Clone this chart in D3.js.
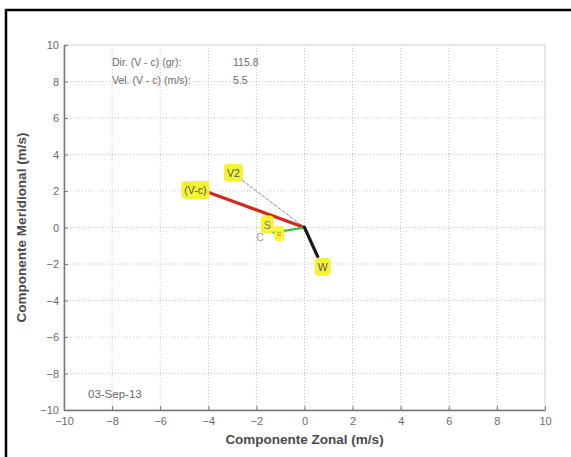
<!DOCTYPE html>
<html>
<head>
<meta charset="UTF-8">
<title>Vectores</title>
<script src="https://d3js.org/d3.v7.min.js"></script>
<style>
  body { margin: 0; background: #fff; }
  svg { display: block; font-family: "Liberation Sans", Arial, sans-serif; }
</style>
</head>
<body>
<svg width="571" height="457"></svg>
<script>
// datos
var ticks = [-10, -8, -6, -4, -2, 0, 2, 4, 6, 8, 10];
var vecNames = ["(V-c)", "V2", "S", "W"];
var vecU = [-4.95, -3.0, -1.3, 0.55];
var vecV = [2.39, 3.0, -0.28, -1.6];
var dirVc = "115.8";
var velVc = "5.5";
var fecha = "03-Sep-13";

var svg = d3.select("svg");

// marco
svg.append("path")
    .attr("d", "M6,460 L6,10 L575,10")
    .attr("fill", "none")
    .attr("stroke", "#000")
    .attr("stroke-width", 2.5);

var x = d3.scaleLinear().domain([-10, 10]).range([64, 545]);
var y = d3.scaleLinear().domain([-10, 10]).range([410, 45]);

// rejilla
var inner = ticks.slice(1, -1);
svg.append("g").selectAll("line").data(inner).enter().append("line")
    .attr("x1", d => x(d)).attr("x2", d => x(d))
    .attr("y1", y(10)).attr("y2", y(-10))
    .attr("stroke", "#c4c4c4").attr("stroke-dasharray", "1,2");
svg.append("g").selectAll("line").data(inner).enter().append("line")
    .attr("y1", d => y(d)).attr("y2", d => y(d))
    .attr("x1", x(-10)).attr("x2", x(10))
    .attr("stroke", "#c4c4c4").attr("stroke-dasharray", "1,2");

// caja
svg.append("rect")
    .attr("x", x(-10)).attr("y", y(10))
    .attr("width", x(10) - x(-10)).attr("height", y(-10) - y(10))
    .attr("fill", "none").attr("stroke", "#cfcfcf");

// ejes
var xAxis = svg.append("g")
    .attr("transform", "translate(0," + y(-10) + ")")
    .call(d3.axisBottom(x).tickValues(ticks).tickSizeInner(-4).tickSizeOuter(0).tickPadding(7));
var yAxis = svg.append("g")
    .attr("transform", "translate(" + x(-10) + ",0)")
    .call(d3.axisLeft(y).tickValues(ticks).tickSizeInner(-4).tickSizeOuter(0).tickPadding(5));
[xAxis, yAxis].forEach(function(a) {
    a.select(".domain").attr("stroke", "#777").attr("stroke-width", 1.5);
    a.selectAll(".tick line").attr("stroke", "#777");
    a.selectAll("text").attr("fill", "#6a6a6a").attr("font-size", "11px")
        .attr("font-family", "Liberation Sans, Arial, sans-serif");
});

// etiquetas de ejes
svg.append("text")
    .attr("x", (x(-10) + x(10)) / 2).attr("y", 444)
    .attr("text-anchor", "middle").attr("font-weight", "bold")
    .attr("font-size", "13.5px").attr("fill", "#4a4a4a")
    .text("Componente Zonal (m/s)");
svg.append("text")
    .attr("transform", "translate(26," + (y(0)) + ") rotate(-90)")
    .attr("text-anchor", "middle").attr("font-weight", "bold")
    .attr("font-size", "13.5px").attr("fill", "#4a4a4a")
    .text("Componente Meridional (m/s)");

// textos
var info = svg.append("g").attr("font-size", "10.5px").attr("fill", "#6a6a6a");
info.append("text").attr("x", 112).attr("y", 66).text("Dir. (V - c) (gr):");
info.append("text").attr("x", 233).attr("y", 66).text(dirVc);
info.append("text").attr("x", 112).attr("y", 84).text("Vel. (V - c) (m/s):");
info.append("text").attr("x", 233).attr("y", 84).text(velVc);
svg.append("text").attr("x", 88).attr("y", 398)
    .attr("font-size", "11.5px").attr("fill", "#6a6a6a").text(fecha);

// vectores
var x0 = x(0), y0 = y(0);
function vline(i, color, w, dash) {
    svg.append("line")
        .attr("x1", x0).attr("y1", y0)
        .attr("x2", x(vecU[i])).attr("y2", y(vecV[i]))
        .attr("stroke", color).attr("stroke-width", w)
        .attr("stroke-dasharray", dash || null)
        .attr("stroke-linecap", "round");
}
vline(1, "#8a8a9a", 1, "3,2");
vline(0, "#d42a1e", 3.2);
vline(2, "#2fc23a", 2.2);
vline(3, "#1a1a1a", 3.2);

// etiquetas amarillas
function label(txt, px, py, fs, color) {
    var g = svg.append("g");
    var t = g.append("text").attr("x", px).attr("y", py)
        .attr("text-anchor", "middle").attr("dominant-baseline", "central")
        .attr("font-size", fs).attr("fill", color || "#555").text(txt);
    var b = t.node().getBBox();
    g.insert("rect", "text")
        .attr("x", b.x - 3).attr("y", b.y - 3)
        .attr("width", b.width + 6).attr("height", b.height + 6)
        .attr("rx", 4).attr("fill", "#f4f22a").attr("opacity", 0.95);
}
label(vecNames[0], x(vecU[0]) + 10, y(vecV[0]) + 6, "10.5px");
label(vecNames[1], x(vecU[1]) + 1, y(vecV[1]) + 0, "10.5px");
label(vecNames[2], x(vecU[2]) - 6, y(vecV[2]) - 8, "10.5px", "#777");
label("c", x(vecU[2]) + 6, y(vecV[2]) + 1, "8px", "#e07020");
svg.append("text").attr("x", x(vecU[2]) - 17).attr("y", y(vecV[2]) + 8)
    .attr("font-size", "10.5px").attr("fill", "#999").text("C");
label(vecNames[3], x(vecU[3]) + 5, y(vecV[3]) + 10, "10.5px");
</script>
</body>
</html>
